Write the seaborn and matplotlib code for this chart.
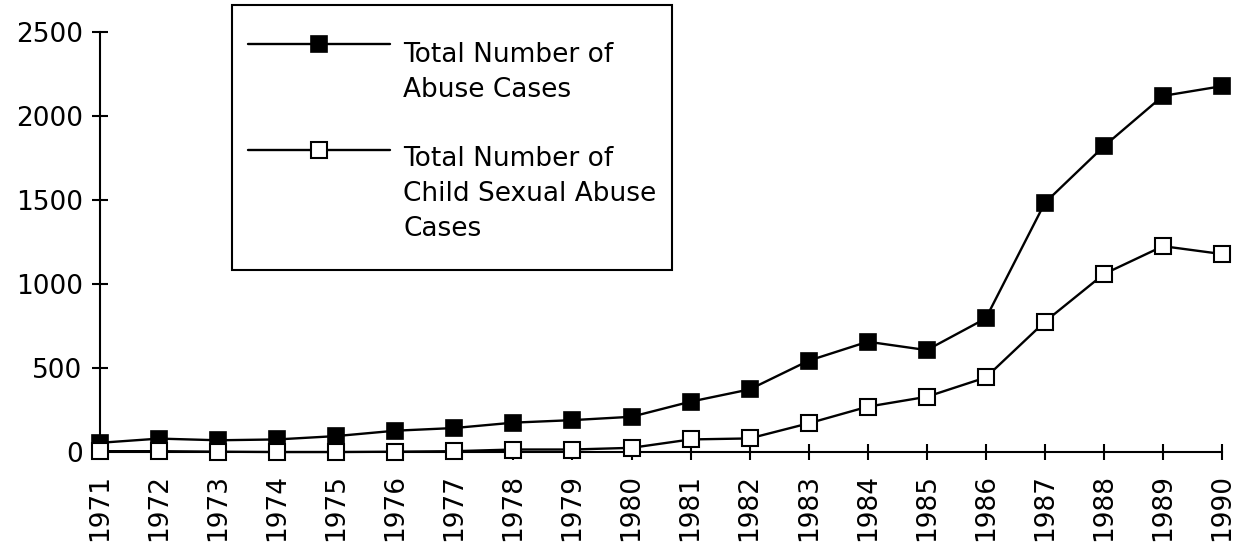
import numpy as np
import pandas as pd
import matplotlib
matplotlib.use("Agg")
import matplotlib.pyplot as plt
import seaborn as sns
from matplotlib.legend_handler import HandlerLine2D
from matplotlib.path import Path

years = list(range(1971, 1991))
total_abuse = [55, 80, 70, 75, 95, 127, 143, 175, 190, 210, 300, 373, 544, 657, 607, 796, 1484, 1821, 2121, 2179]
child_sexual = [5, 5, 2, 0, 0, 2, 5, 15, 15, 25, 75, 81, 171, 270, 329, 444, 776, 1060, 1226, 1179]
labels = ["Total Number of\nAbuse Cases", "Total Number of\nChild Sexual Abuse\nCases"]
yticks = [0, 500, 1000, 1500, 2000, 2500]

sns.set_style("ticks")
plt.rcParams["font.family"] = ["DejaVu Sans"]
plt.rcParams["text.color"] = "black"

fig = plt.figure(figsize=(12.35, 5.56), dpi=100)
ax = fig.add_axes([0.081, 0.187, 0.9085, 0.755])

df = pd.DataFrame({"year": years, "total": total_abuse, "csa": child_sexual})

sns.lineplot(data=df, x="year", y="total", ax=ax, color="black", lw=1.7,
             marker="s", markersize=11.5, markerfacecolor="black", markeredgecolor="black",
             markeredgewidth=1.2, clip_on=False, label=labels[0], zorder=3)
sns.lineplot(data=df, x="year", y="csa", ax=ax, color="black", lw=1.7,
             marker="s", markersize=11.5, markerfacecolor="white", markeredgecolor="black",
             markeredgewidth=1.5, clip_on=False, label=labels[1], zorder=4)

ax.set_xlim(1971, 1990)
ax.set_ylim(0, 2500)
ax.set_xticks(years)
ax.set_xticklabels([str(y) for y in years], rotation=90, fontsize=19)
ax.set_yticks(yticks)
ax.set_yticklabels([str(v) for v in yticks], fontsize=19)
ax.set_xlabel("")
ax.set_ylabel("")
for s in ["top", "right"]:
    ax.spines[s].set_visible(False)
for s in ["left", "bottom"]:
    ax.spines[s].set_linewidth(1.5)
    ax.spines[s].set_color("black")
ax.tick_params(axis="both", direction="inout", length=11, width=1.5, colors="black")
ax.tick_params(axis="y", pad=7)
ax.tick_params(axis="x", pad=10)


class ShiftHandler(HandlerLine2D):
    def __init__(self, shift, **kw):
        super().__init__(**kw)
        self.shift = shift

    def create_artists(self, legend, orig_handle, xdescent, ydescent, width, height, fontsize, trans):
        arts = super().create_artists(legend, orig_handle, xdescent, ydescent, width, height, fontsize, trans)
        for a in arts:
            a.set_ydata(np.asarray(a.get_ydata(), dtype=float) + self.shift)
        return arts


TOP_EXTRA = 21    # px
BOTTOM_EXTRA = 12  # px


def tall_box(x0, y0, width, height, mutation_size):
    x1 = x0 + width
    yb = y0 - BOTTOM_EXTRA
    yt = y0 + height + TOP_EXTRA
    return Path([(x0, yb), (x1, yb), (x1, yt), (x0, yt), (x0, yb)], closed=True)


handles, labs = ax.get_legend_handles_labels()
if ax.get_legend():
    ax.get_legend().remove()
leg = fig.legend(handles, labs, loc="upper left",
                 bbox_to_anchor=(0.188, 1 - (5 + TOP_EXTRA) / 556),
                 bbox_transform=fig.transFigure, borderaxespad=0, fontsize=19,
                 frameon=True, fancybox=False, edgecolor="black", framealpha=1,
                 handlelength=5.38, handletextpad=0.5, borderpad=0.6, labelspacing=1.64,
                 handler_map={handles[0]: ShiftHandler(21.3), handles[1]: ShiftHandler(32.5)})
leg.get_frame().set_boxstyle(tall_box)
leg.get_frame().set_linewidth(1.5)
for t in leg.get_texts():
    t.set_linespacing(1.45)
    t.set_color("black")

fig.savefig("out.png", dpi=100, facecolor="white")
